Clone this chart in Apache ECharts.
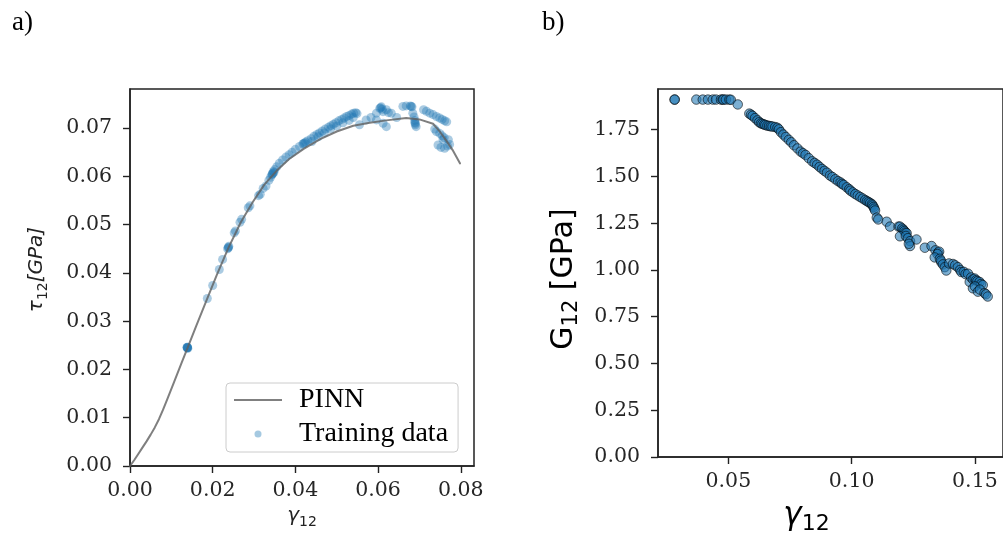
<!DOCTYPE html>
<html>
<head>
<meta charset="utf-8">
<script src="https://cdn.jsdelivr.net/npm/echarts@6/dist/echarts.min.js"></script>
<style>
html,body{margin:0;padding:0;background:#fff;}
#main{width:1003px;height:540px;}
</style>
</head>
<body>
<div id="main"></div>
<script>
// ---- data ----
const pinnCurve = [[0,0],[0.001,0.0012],[0.002,0.0025],[0.003,0.0038],[0.004,0.0051],[0.005,0.0065],[0.006,0.0080],[0.007,0.0097],[0.008,0.0117],[0.009,0.0138],[0.0107,0.0175],[0.0125,0.0214],[0.0139,0.0244],[0.016,0.0290],[0.0187,0.0347],[0.021,0.0396],[0.0238,0.0452],[0.0268,0.0505],[0.0297,0.0547],[0.0325,0.0583],[0.0355,0.0612],[0.0385,0.0636],[0.042,0.0657],[0.046,0.0677],[0.050,0.0693],[0.054,0.0705],[0.058,0.0711],[0.062,0.0716],[0.0668,0.0721],[0.070,0.0718],[0.0733,0.0709],[0.0750,0.0692],[0.0765,0.0674],[0.078,0.0655],[0.0798,0.0627]];

const trainingData = [[0.0138,0.0246],[0.0139,0.0245],[0.0140,0.0244],[0.0139,0.0245],[0.0139,0.0246],[0.0138,0.0245],
[0.0187,0.0347],[0.0200,0.0374],[0.0216,0.0407],[0.0224,0.0428],
[0.0236,0.0450],[0.0238,0.0453],[0.0239,0.0455],[0.0238,0.0452],[0.0252,0.0483],[0.0255,0.0487],
[0.0266,0.0505],[0.0270,0.0511],[0.0286,0.0535],[0.0290,0.0539],[0.0311,0.0560],[0.0315,0.0563],
[0.0322,0.0575],[0.0329,0.0580],[0.0336,0.0592],[0.0340,0.0598],[0.0343,0.0603],[0.0345,0.0606],[0.0347,0.0610],[0.0350,0.0614],[0.0344,0.0605],[0.0348,0.0608],
[0.0355,0.0620],[0.0361,0.0627],[0.0369,0.0634],[0.0377,0.0640],[0.0385,0.0645],[0.0392,0.0650],[0.0400,0.0656],[0.0410,0.0662],[0.0418,0.0667],[0.0422,0.0669],[0.0425,0.0671],[0.0420,0.0668],[0.0430,0.0674],[0.0438,0.0678],[0.0445,0.0683],[0.0452,0.0687],[0.0458,0.0690],[0.0465,0.0694],[0.0472,0.0698],[0.0480,0.0702],[0.0486,0.0705],[0.0492,0.0708],[0.0498,0.0711],[0.0505,0.0715],[0.0512,0.0718],[0.0518,0.0721],[0.0524,0.0724],[0.0530,0.0726],[0.0536,0.0729],[0.0541,0.0731],[0.0546,0.0732],[0.0549,0.0730],
[0.0440,0.0672],[0.0455,0.0682],[0.0470,0.0690],[0.0485,0.0698],[0.0500,0.0704],[0.0515,0.0711],[0.0530,0.0716],[0.0540,0.0722],
[0.0555,0.0707],[0.0571,0.0717],[0.0583,0.0722],[0.0596,0.0717],[0.0596,0.0731],[0.0604,0.0741],[0.0608,0.0744],[0.0606,0.0742],[0.0610,0.0739],[0.0612,0.0734],[0.0620,0.0738],[0.0625,0.0732],[0.0632,0.0731],[0.0612,0.0710],[0.0620,0.0703],[0.0645,0.0722],
[0.0660,0.0745],[0.0668,0.0746],[0.0678,0.0746],[0.0680,0.0745],[0.0682,0.0744],[0.0684,0.0731],[0.0687,0.0723],[0.0689,0.0712],[0.0690,0.0707],[0.0692,0.0703],[0.0689,0.0716],[0.0690,0.0710],
[0.0710,0.0738],[0.0717,0.0735],[0.0725,0.0731],[0.0733,0.0728],[0.0741,0.0724],[0.0749,0.0721],[0.0755,0.0718],[0.0761,0.0715],[0.0766,0.0713],
[0.0737,0.0698],[0.0741,0.0693],[0.0749,0.0689],[0.0755,0.0684],[0.0760,0.0680],[0.0757,0.0676],
[0.0745,0.0665],[0.0752,0.0660],[0.0761,0.0658],[0.0768,0.0663],[0.0773,0.0666],[0.0770,0.0676]];

const shearModulus = [[0.0282,1.911],[0.0282,1.911],
[0.0370,1.911],[0.0396,1.911],[0.0417,1.911],[0.0437,1.911],[0.0450,1.911],[0.0470,1.911],[0.0477,1.911],[0.0480,1.911],[0.0490,1.911],[0.0504,1.911],[0.0510,1.910],
[0.0538,1.885],
[0.0585,1.836],[0.0592,1.830],[0.0598,1.824],[0.0608,1.812],[0.0618,1.800],[0.0625,1.790],[0.0632,1.784],[0.0638,1.781],[0.0645,1.778],[0.0650,1.775],[0.0658,1.772],[0.0665,1.770],[0.0672,1.768],[0.0679,1.767],[0.0690,1.764],[0.0699,1.760],[0.0705,1.752],[0.0713,1.737],[0.0723,1.724],[0.0733,1.711],[0.0745,1.696],[0.0755,1.683],[0.0766,1.667],[0.0780,1.650],[0.0793,1.633],[0.0803,1.624],[0.0813,1.615],[0.0826,1.598],[0.0840,1.581],[0.0850,1.572],[0.0860,1.563],[0.0870,1.551],[0.0880,1.540],[0.0890,1.530],[0.0900,1.520],[0.0912,1.505],[0.0922,1.497],[0.0934,1.485],[0.0945,1.475],[0.0955,1.468],[0.0961,1.460],[0.0968,1.455],[0.0980,1.442],[0.0990,1.432],[0.0995,1.424],[0.1005,1.415],[0.1015,1.406],[0.1025,1.398],[0.1035,1.390],[0.1045,1.382],[0.1055,1.374],[0.1062,1.368],[0.1069,1.363],[0.1075,1.358],[0.1082,1.352],[0.1085,1.345],[0.1089,1.337],[0.1092,1.328],[0.1095,1.318],[0.1102,1.280],[0.1108,1.270],
[0.1142,1.258],[0.1156,1.232],[0.1190,1.232],[0.1196,1.232],[0.1205,1.222],[0.1210,1.215],[0.1214,1.208],[0.1218,1.200],[0.1223,1.197],[0.1196,1.180],[0.1220,1.182],[0.1228,1.170],[0.1237,1.154],[0.1263,1.163],[0.1237,1.128],[0.1232,1.140],
[0.1297,1.119],[0.1324,1.128],[0.1340,1.105],[0.1351,1.093],[0.1355,1.098],[0.1348,1.085],[0.1337,1.067],[0.1358,1.060],[0.1364,1.041],[0.1362,1.050],[0.1370,1.030],[0.1378,1.015],[0.1384,0.997],[0.1395,1.035],[0.1411,1.032],[0.1420,1.025],[0.1431,1.015],[0.1440,1.000],[0.1445,0.989],[0.1455,0.990],[0.1462,0.978],[0.1472,0.980],[0.1479,0.936],[0.1485,0.960],[0.1492,0.950],[0.1499,0.954],[0.1505,0.945],[0.1510,0.940],[0.1519,0.936],[0.1525,0.925],[0.1532,0.919],[0.1492,0.902],[0.1500,0.912],[0.1512,0.884],[0.1520,0.895],[0.1539,0.876],[0.1545,0.870],[0.1552,0.858]];

const ticksAX = [0, 0.02, 0.04, 0.06, 0.08];
const ticksAY = [0, 0.01, 0.02, 0.03, 0.04, 0.05, 0.06, 0.07];
const ticksBX = [0.05, 0.10, 0.15];
const ticksBY = [0, 0.25, 0.5, 0.75, 1.0, 1.25, 1.5, 1.75];
const panelLabels = ['a)', 'b)'];
const legendNames = ['PINN', 'Training data'];

// ---- chart ----
const chart = echarts.init(document.getElementById('main'), null, {renderer: 'canvas'});
const axisColor = '#222';
const tickFont = {fontFamily: 'DejaVu Serif', fontSize: 20.5, color: '#262626'};

function axisCommon(ticks, digits, margin) {
  return {
    axisLine: {show: true, onZero: false, lineStyle: {color: axisColor, width: 1.5}},
    axisTick: {show: true, inside: false, length: 7, customValues: ticks, lineStyle: {color: axisColor, width: 1.4}},
    axisLabel: Object.assign({customValues: ticks, margin: margin, formatter: v => Number(v).toFixed(digits)}, tickFont),
    splitLine: {show: false}
  };
}

const option = {
  animation: false,
  backgroundColor: '#fff',
  title: [
    {text: panelLabels[0], left: 7, top: 4, textStyle: {fontFamily: 'Liberation Serif', fontSize: 27, fontWeight: 'normal', color: '#000'}},
    {text: panelLabels[1], left: 537, top: 4, textStyle: {fontFamily: 'Liberation Serif', fontSize: 27, fontWeight: 'normal', color: '#000'}}
  ],
  grid: [
    {left: 130, top: 89, width: 344, height: 377, show: true, borderColor: axisColor, borderWidth: 1.5, backgroundColor: 'transparent'},
    {left: 658, top: 89, width: 348, height: 377, show: true, borderColor: axisColor, borderWidth: 1.5, backgroundColor: 'transparent'}
  ],
  legend: {
    data: [
      {name: legendNames[0], icon: 'path://M0,0H48V2H0Z', itemStyle: {color: '#808080'}},
      {name: legendNames[1], icon: 'circle', itemStyle: {color: '#1f77b4', opacity: 0.4}}
    ],
    orient: 'vertical',
    left: 226, top: 383,
    padding: [3, 10, 4, 8],
    itemGap: 6,
    itemWidth: 48,
    itemHeight: 7,
    backgroundColor: 'rgba(255,255,255,0.8)',
    borderColor: '#cccccc',
    borderWidth: 1,
    borderRadius: 4,
    textStyle: {fontFamily: 'Liberation Serif', fontSize: 28, color: '#000', padding: [0, 0, 0, 12]}
  },
  xAxis: [
    Object.assign({type: 'value', gridIndex: 0, min: 0, max: 0.0832,
      name: '{i|γ}{s|12}', nameLocation: 'middle', nameGap: 20,
      nameTextStyle: {color: '#222', rich: {
        i: {fontFamily: 'DejaVu Sans', fontStyle: 'italic', fontSize: 20, lineHeight: 26, color: '#222'},
        s: {fontFamily: 'DejaVu Sans', fontSize: 14, lineHeight: 14, verticalAlign: 'bottom', color: '#222'}}}
    }, axisCommon(ticksAX, 2, 14)),
    Object.assign({type: 'value', gridIndex: 1, min: 0.02145, max: 0.1614,
      name: '{i|γ}{s|12}', nameLocation: 'middle', nameGap: 40,
      nameTextStyle: {color: '#000', padding: [0, 48, 0, 0], rich: {
        i: {fontFamily: 'DejaVu Sans', fontStyle: 'italic', fontSize: 31, lineHeight: 38, color: '#000'},
        s: {fontFamily: 'DejaVu Sans', fontSize: 22, lineHeight: 22, verticalAlign: 'bottom', color: '#000'}}}
    }, axisCommon(ticksBX, 2, 14))
  ],
  yAxis: [
    Object.assign({type: 'value', gridIndex: 0, min: 0, max: 0.0781,
      name: '{i|τ}{s|12}{i|[GPa]}', nameLocation: 'middle', nameGap: 80, nameRotate: 90,
      nameTextStyle: {color: '#222', padding: [0, 0, 0, 16], rich: {
        i: {fontFamily: 'DejaVu Sans', fontStyle: 'italic', fontSize: 20, lineHeight: 26, color: '#222'},
        s: {fontFamily: 'DejaVu Sans', fontSize: 14, lineHeight: 14, verticalAlign: 'bottom', color: '#222'}}}
    }, axisCommon(ticksAY, 2, 18)),
    Object.assign({type: 'value', gridIndex: 1, min: 0, max: 1.9676,
      name: '{r|G}{s|12}{r| [GPa]}', nameLocation: 'middle', nameGap: 76, nameRotate: 90,
      nameTextStyle: {color: '#000', padding: [0, 12, 0, 0], rich: {
        r: {fontFamily: 'DejaVu Sans', fontSize: 30, lineHeight: 36, color: '#000'},
        s: {fontFamily: 'DejaVu Sans', fontSize: 21, lineHeight: 21, verticalAlign: 'bottom', color: '#000'}}}
    }, axisCommon(ticksBY, 2, 18))
  ],
  series: [
    {name: legendNames[0], type: 'line', xAxisIndex: 0, yAxisIndex: 0, data: pinnCurve,
      showSymbol: false, symbol: 'none', smooth: false,
      lineStyle: {color: 'rgba(95,95,95,0.8)', width: 2, cap: 'round', join: 'round'},
      itemStyle: {color: '#808080'}, z: 3},
    {name: legendNames[1], type: 'scatter', xAxisIndex: 0, yAxisIndex: 0, data: trainingData,
      symbolSize: 9, itemStyle: {color: '#1f77b4', opacity: 0.38}, z: 2},
    {name: 'G12', type: 'scatter', xAxisIndex: 1, yAxisIndex: 1, data: shearModulus,
      symbolSize: 9.5, itemStyle: {color: '#1f77b4', borderColor: '#000', borderWidth: 1, opacity: 0.58}, z: 2}
  ]
};
chart.setOption(option);
</script>
</body>
</html>
